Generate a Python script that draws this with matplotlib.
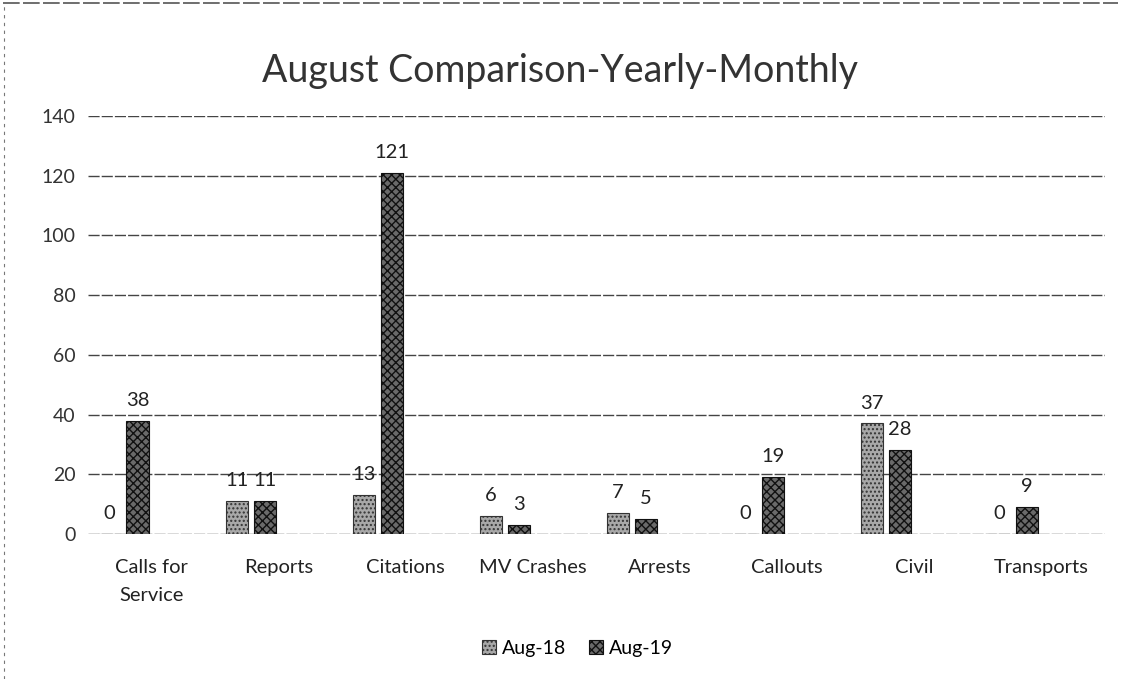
import matplotlib
matplotlib.use("Agg")
import matplotlib.pyplot as plt
from matplotlib.lines import Line2D
import numpy as np

categories = ["Calls for\nService", "Reports", "Citations", "MV Crashes", "Arrests", "Callouts", "Civil", "Transports"]
aug18 = [0, 11, 13, 6, 7, 0, 37, 0]
aug19 = [38, 11, 121, 3, 5, 19, 28, 9]
series_names = ["Aug-18", "Aug-19"]
yticks = [0, 20, 40, 60, 80, 100, 120, 140]

plt.rcParams['font.family'] = ['Lato', 'DejaVu Sans']

fig = plt.figure(figsize=(11.21, 6.79), dpi=100)
ax = fig.add_axes([0.0785, 0.2135, 0.907, 0.616])

x = np.arange(len(categories))
w = 0.175
pitch = 0.22
# two further (empty) series slots on the right shift the visible bars left
b1 = ax.bar(x - 1.5 * pitch, aug18, w, color="#a8a8a8", edgecolor="#333333", hatch="....", linewidth=0.8, label=series_names[0], zorder=3)
b2 = ax.bar(x - 0.5 * pitch, aug19, w, color="#6a6a6a", edgecolor="#111111", hatch="xxxx", linewidth=0.8, label=series_names[1], zorder=3)

for bars, vals in ((b1, aug18), (b2, aug19)):
    for r, v in zip(bars, vals):
        ax.text(r.get_x() + r.get_width() / 2, v + 4.0, str(v), ha="center", va="bottom", fontsize=14.5, color="#222222")

ax.set_xlim(-0.5, len(categories) - 0.5)
ax.set_ylim(0, 140)
ax.set_yticks(yticks)
ax.set_yticklabels([str(t) for t in yticks], fontsize=14, color="#333333")
ax.set_xticks(x)
ax.set_xticklabels(categories, fontsize=14.5, color="#222222", linespacing=1.75)
ax.tick_params(length=0)
ax.tick_params(axis="x", pad=18)
ax.tick_params(axis="y", pad=9)
ax.yaxis.grid(True, color="#444444", linewidth=1.0, linestyle=(0, (8, 1.5)), zorder=0)
for s in ax.spines.values():
    s.set_visible(False)

fig.suptitle("August Comparison-Yearly-Monthly", y=0.922, fontsize=27, color="#333333")

fig.legend(handles=[b1, b2], labels=series_names, loc="center", bbox_to_anchor=(0.515, 0.045), ncol=2,
           frameon=False, fontsize=14, handlelength=0.7, handleheight=0.7, columnspacing=1.2, handletextpad=0.3)

# scanned frame edges
fig.add_artist(Line2D([0.003, 0.997], [0.995, 0.995], transform=fig.transFigure, color="#555555", lw=1.2, ls=(0, (10, 2))))
fig.add_artist(Line2D([0.004, 0.004], [0.0, 0.995], transform=fig.transFigure, color="#777777", lw=0.8, ls=(0, (3, 4))))

fig.savefig("out.png", dpi=100)
